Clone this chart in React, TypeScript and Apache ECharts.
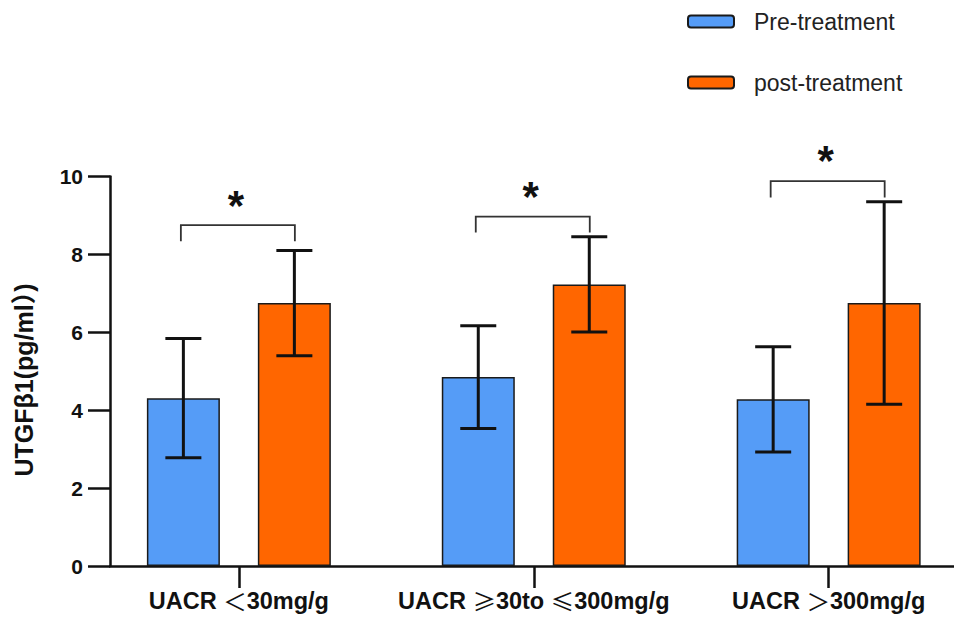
import React, { useEffect, useRef } from "react";
import * as echarts from "echarts";

const categories = ["UACR ＜30mg/g", "UACR ≥30to ≤300mg/g", "UACR ＞300mg/g"];
const seriesNames = ["Pre-treatment", "post-treatment"];
const preMean = [4.31, 4.85, 4.28];
const preSD = [1.53, 1.32, 1.35];
const postMean = [6.75, 7.23, 6.75];
const postSD = [1.35, 1.22, 2.6];
const bracketTop = [8.75, 8.97, 9.88];
const bracketLeg = [8.34, 8.56, 9.46];
const starLevel = [9.38, 9.61, 10.53];
const starText = ["*", "*", "*"];
const yTicks = [0, 2, 4, 6, 8, 10];

const FONT = "'Liberation Sans', Arial, 'Noto Sans CJK SC', sans-serif";
const CJK = "'Noto Sans CJK SC', 'Liberation Sans', sans-serif";
const BAR_OFFSET = 55.5;

function richLabel(s: string): string {
  return s.replace(/([＜＞≥≤])/g, "{sym|$1}").replace(/(^|\})([^{}]+?)(?=\{|$)/g, "$1{t|$2}");
}

export default function App() {
  const ref = useRef<HTMLDivElement>(null);
  useEffect(() => {
    if (!ref.current) return;
    const chart = echarts.init(ref.current, undefined, { renderer: "svg" });

    const idx = categories.map((_, i) => i);
    const preData = idx.map((i) => [i, preMean[i]]);
    const postData = idx.map((i) => [i, postMean[i]]);
    const errData = idx.flatMap((i) => [
      [i, preMean[i] - preSD[i], preMean[i] + preSD[i], -1],
      [i, postMean[i] - postSD[i], postMean[i] + postSD[i], 1],
    ]);
    const sigData = idx.map((i) => [i, bracketTop[i], bracketLeg[i], starLevel[i], i]);

    const labelBase = { fontFamily: FONT, fontSize: 23.5, fontWeight: "bold", color: "#111", lineHeight: 20 };

    const option: any = {
      animation: false,
      backgroundColor: "#ffffff",
      textStyle: { fontFamily: FONT },
      legend: {
        orient: "vertical",
        left: 682,
        top: 5,
        itemWidth: 46,
        itemHeight: 12,
        itemGap: 38,
        icon: "roundRect",
        data: seriesNames,
        textStyle: {
          fontFamily: FONT,
          fontSize: 23,
          lineHeight: 22,
          color: "#222",
          padding: [0, 0, 0, 15],
        },
      },
      grid: { left: 110, right: 0, top: 176.5, bottom: 54, containLabel: false },
      xAxis: {
        type: "value",
        min: -0.437,
        max: 2.425,
        splitLine: { show: false },
        axisLine: { show: true, onZero: false, lineStyle: { color: "#111", width: 2.5 } },
        axisTick: {
          show: true,
          customValues: idx,
          length: 22,
          inside: false,
          lineStyle: { color: "#111", width: 2.5 },
        },
        axisLabel: {
          customValues: idx,
          formatter: (v: number) => {
            const c = categories[Math.round(v)];
            return c ? richLabel(c) : "";
          },
          ...labelBase,
          margin: 25,
          rich: {
            t: { ...labelBase },
            sym: { ...labelBase, fontFamily: CJK, fontWeight: "normal" },
          },
        },
      },
      yAxis: {
        type: "value",
        min: 0,
        max: 10,
        interval: 2,
        splitLine: { show: false },
        axisLine: { show: true, onZero: false, lineStyle: { color: "#111", width: 2.5 } },
        axisTick: { show: true, length: 22, lineStyle: { color: "#111", width: 2.5 } },
        axisLabel: {
          fontFamily: FONT,
          fontSize: 21,
          fontWeight: "bold",
          color: "#111",
          margin: 27,
          formatter: (v: number) => (yTicks.includes(v) ? String(v) : ""),
        },
      },
      graphic: [
        {
          type: "text",
          x: 24,
          y: 380,
          rotation: Math.PI / 2,
          style: {
            text: "UTGFβ1(pg/ml）)",
            fontFamily: FONT,
            fontSize: 25,
            fontWeight: "bold",
            fill: "#111",
            textAlign: "center",
            textVerticalAlign: "middle",
          },
        },
      ],
      series: [
        {
          name: seriesNames[0],
          type: "bar",
          data: preData,
          barWidth: 73,
          barGap: "52%",
          itemStyle: { color: "#559CF7", borderColor: "#1a1a1a", borderWidth: 1.5 },
          z: 2,
        },
        {
          name: seriesNames[1],
          type: "bar",
          data: postData,
          barWidth: 73,
          barGap: "52%",
          itemStyle: { color: "#FF6600", borderColor: "#1a1a1a", borderWidth: 1.5 },
          z: 2,
        },
        {
          type: "custom",
          data: errData,
          z: 5,
          clip: false,
          renderItem: (params: any, api: any) => {
            const x = api.value(0);
            const side = api.value(3);
            const lo = api.coord([x, api.value(1)]);
            const hi = api.coord([x, api.value(2)]);
            const cx = lo[0] + side * BAR_OFFSET;
            const cap = 18;
            const style = { stroke: "#111", lineWidth: 3 };
            return {
              type: "group",
              children: [
                { type: "line", shape: { x1: cx, y1: lo[1], x2: cx, y2: hi[1] }, style },
                { type: "line", shape: { x1: cx - cap, y1: hi[1], x2: cx + cap, y2: hi[1] }, style },
                { type: "line", shape: { x1: cx - cap, y1: lo[1], x2: cx + cap, y2: lo[1] }, style },
              ],
            };
          },
        },
        {
          type: "custom",
          data: sigData,
          z: 5,
          clip: false,
          renderItem: (params: any, api: any) => {
            const x = api.value(0);
            const top = api.coord([x, api.value(1)]);
            const leg = api.coord([x, api.value(2)]);
            const star = api.coord([x, api.value(3)]);
            const i = api.value(4);
            const xl = top[0] - 58;
            const xr = top[0] + 56;
            const style = { stroke: "#333", lineWidth: 1.8, fill: "none" };
            return {
              type: "group",
              children: [
                {
                  type: "polyline",
                  shape: { points: [[xl, leg[1]], [xl, top[1]], [xr, top[1]], [xr, leg[1]]] },
                  style,
                },
                {
                  type: "text",
                  x: top[0] - 3,
                  y: star[1] + 5,
                  style: {
                    text: starText[i],
                    fontFamily: FONT,
                    fontSize: 42,
                    fontWeight: "bold",
                    fill: "#111",
                    textAlign: "center",
                    textVerticalAlign: "middle",
                  },
                },
              ],
            };
          },
        },
      ],
    };
    chart.setOption(option);
    return () => chart.dispose();
  }, []);

  return (
    <div
      ref={ref}
      style={{ position: "fixed", left: 0, top: 0, width: 954, height: 620, background: "#fff" }}
    />
  );
}
